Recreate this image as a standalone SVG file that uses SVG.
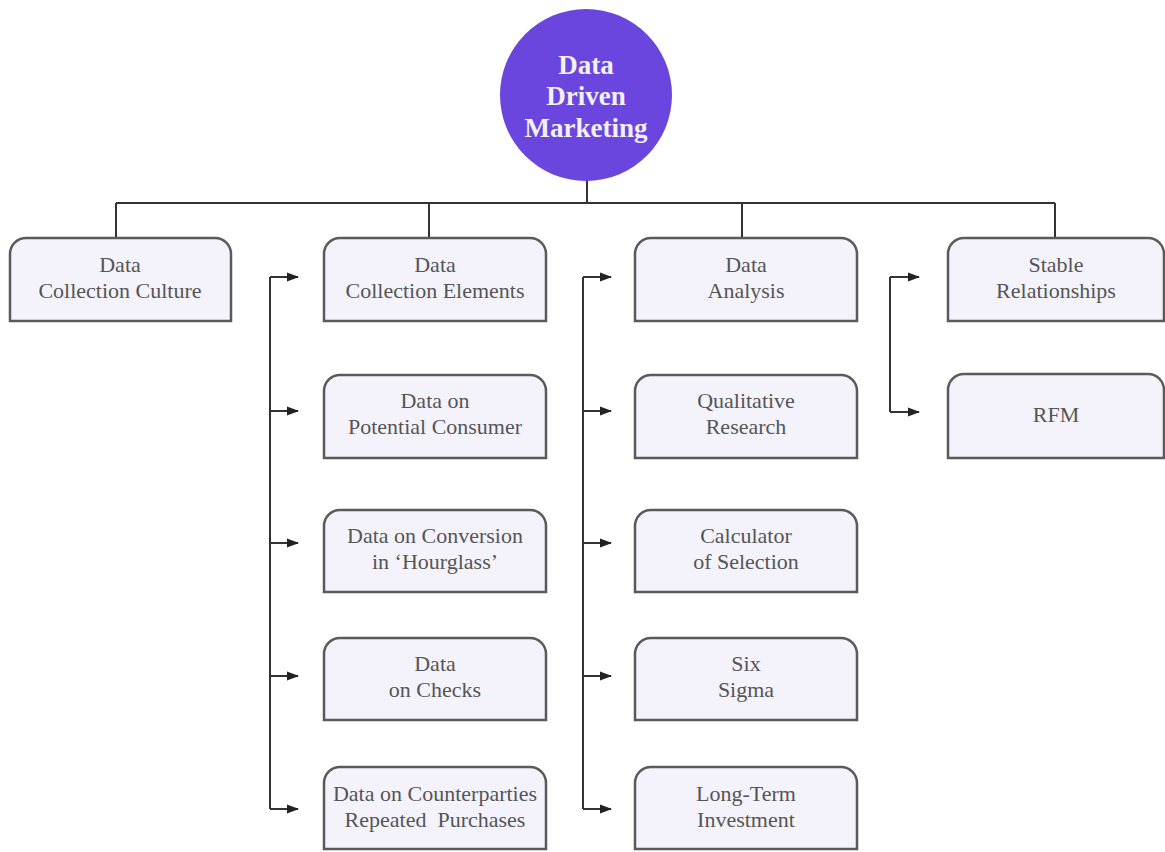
<svg xmlns="http://www.w3.org/2000/svg" width="1165" height="852" viewBox="0 0 1165 852">
  <defs>
    <marker id="arrow" viewBox="0 0 12 10" refX="11" refY="5" markerWidth="12" markerHeight="10" markerUnits="userSpaceOnUse" orient="auto">
      <path d="M0,0.5 L12,5 L0,9.5 Z" fill="#222"/>
    </marker>
  </defs>
  <style>
    .box { fill: #f4f3fc; stroke: #5a5a5a; stroke-width: 2.5; }
    .lbl { font-family: "Liberation Serif", "Times New Roman", serif; font-size: 22px; fill: #555; text-anchor: middle; }
    .hub { fill: #6a45de; }
    .hubtxt { font-family: "Liberation Serif", "Times New Roman", serif; font-size: 27px; font-weight: bold; fill: #f2f0f7; text-anchor: middle; }
    .wire { fill: none; stroke: #333; stroke-width: 2; }
  </style>
  <rect width="1165" height="852" fill="#ffffff"/>

  <g id="connectors">
    <path class="wire" d="M587,180 V203 M116,203 H1055 M116,203 V238 M429,203 V238 M742,203 V238 M1055,203 V238"/>
    <path class="wire" d="M270,277 V809"/>
    <path class="wire" d="M270,277 H298" marker-end="url(#arrow)"/>
    <path class="wire" d="M270,411 H298" marker-end="url(#arrow)"/>
    <path class="wire" d="M270,543 H298" marker-end="url(#arrow)"/>
    <path class="wire" d="M270,676 H298" marker-end="url(#arrow)"/>
    <path class="wire" d="M270,809 H298" marker-end="url(#arrow)"/>
    <path class="wire" d="M583,277 V809"/>
    <path class="wire" d="M583,277 H611" marker-end="url(#arrow)"/>
    <path class="wire" d="M583,411 H611" marker-end="url(#arrow)"/>
    <path class="wire" d="M583,543 H611" marker-end="url(#arrow)"/>
    <path class="wire" d="M583,676 H611" marker-end="url(#arrow)"/>
    <path class="wire" d="M583,809 H611" marker-end="url(#arrow)"/>
    <path class="wire" d="M890,277 V412"/>
    <path class="wire" d="M890,277 H919" marker-end="url(#arrow)"/>
    <path class="wire" d="M890,412 H919" marker-end="url(#arrow)"/>
  </g>

  <g id="hub">
    <circle class="hub" cx="586" cy="95" r="86"/>
    <text class="hubtxt" x="586" y="74">Data</text>
    <text class="hubtxt" x="586" y="105">Driven</text>
    <text class="hubtxt" x="586" y="137">Marketing</text>
  </g>

  <!-- boxes: rounded top corners, square bottom -->
  <g id="n-culture">
    <path class="box" d="M10,321 V254 A16,16 0 0 1 26,238 H215 A16,16 0 0 1 231,254 V321 Z"/>
    <text class="lbl" x="120" y="272">Data</text>
    <text class="lbl" x="120" y="298">Collection Culture</text>
  </g>

  <g id="n-elements">
    <path class="box" d="M324,321 V254 A16,16 0 0 1 340,238 H530 A16,16 0 0 1 546,254 V321 Z"/>
    <text class="lbl" x="435" y="272">Data</text>
    <text class="lbl" x="435" y="298">Collection Elements</text>
  </g>
  <g id="n-potential">
    <path class="box" d="M324,458 V391 A16,16 0 0 1 340,375 H530 A16,16 0 0 1 546,391 V458 Z"/>
    <text class="lbl" x="435" y="408">Data on</text>
    <text class="lbl" x="435" y="434">Potential Consumer</text>
  </g>
  <g id="n-conversion">
    <path class="box" d="M324,592 V526 A16,16 0 0 1 340,510 H530 A16,16 0 0 1 546,526 V592 Z"/>
    <text class="lbl" x="435" y="543">Data on Conversion</text>
    <text class="lbl" x="435" y="569">in ‘Hourglass’</text>
  </g>
  <g id="n-checks">
    <path class="box" d="M324,720 V654 A16,16 0 0 1 340,638 H530 A16,16 0 0 1 546,654 V720 Z"/>
    <text class="lbl" x="435" y="671">Data</text>
    <text class="lbl" x="435" y="697">on Checks</text>
  </g>
  <g id="n-counterparties">
    <path class="box" d="M324,849 V783 A16,16 0 0 1 340,767 H530 A16,16 0 0 1 546,783 V849 Z"/>
    <text class="lbl" x="435" y="801">Data on Counterparties</text>
    <text class="lbl" x="435" y="827">Repeated&#160; Purchases</text>
  </g>

  <g id="n-analysis">
    <path class="box" d="M635,321 V254 A16,16 0 0 1 651,238 H841 A16,16 0 0 1 857,254 V321 Z"/>
    <text class="lbl" x="746" y="272">Data</text>
    <text class="lbl" x="746" y="298">Analysis</text>
  </g>
  <g id="n-qualitative">
    <path class="box" d="M635,458 V391 A16,16 0 0 1 651,375 H841 A16,16 0 0 1 857,391 V458 Z"/>
    <text class="lbl" x="746" y="408">Qualitative</text>
    <text class="lbl" x="746" y="434">Research</text>
  </g>
  <g id="n-calculator">
    <path class="box" d="M635,592 V526 A16,16 0 0 1 651,510 H841 A16,16 0 0 1 857,526 V592 Z"/>
    <text class="lbl" x="746" y="543">Calculator</text>
    <text class="lbl" x="746" y="569">of Selection</text>
  </g>
  <g id="n-sigma">
    <path class="box" d="M635,720 V654 A16,16 0 0 1 651,638 H841 A16,16 0 0 1 857,654 V720 Z"/>
    <text class="lbl" x="746" y="671">Six</text>
    <text class="lbl" x="746" y="697">Sigma</text>
  </g>
  <g id="n-longterm">
    <path class="box" d="M635,849 V783 A16,16 0 0 1 651,767 H841 A16,16 0 0 1 857,783 V849 Z"/>
    <text class="lbl" x="746" y="801">Long-Term</text>
    <text class="lbl" x="746" y="827">Investment</text>
  </g>

  <g id="n-stable">
    <path class="box" d="M948,321 V254 A16,16 0 0 1 964,238 H1148 A16,16 0 0 1 1164,254 V321 Z"/>
    <text class="lbl" x="1056" y="272">Stable</text>
    <text class="lbl" x="1056" y="298">Relationships</text>
  </g>
  <g id="n-rfm">
    <path class="box" d="M948,458 V390 A16,16 0 0 1 964,374 H1148 A16,16 0 0 1 1164,390 V458 Z"/>
    <text class="lbl" x="1056" y="422">RFM</text>
  </g>
</svg>
